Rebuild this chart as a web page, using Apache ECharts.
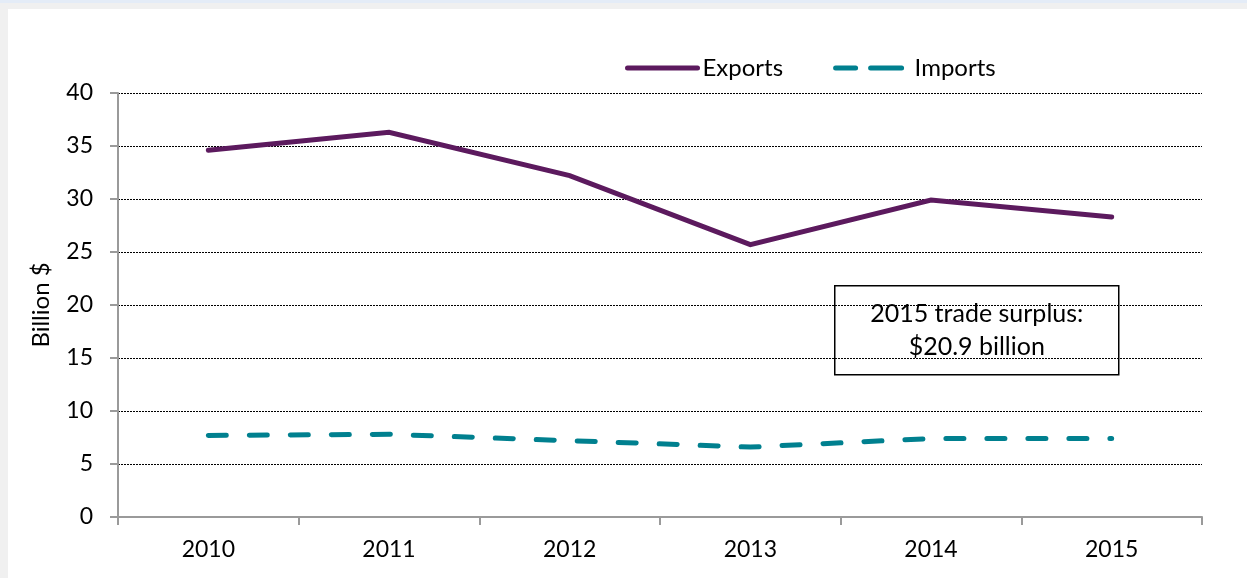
<!DOCTYPE html>
<html>
<head>
<meta charset="utf-8">
<script src="https://cdn.jsdelivr.net/npm/echarts@6/dist/echarts.min.js"></script>
<style>
  html, body { margin: 0; padding: 0; background: #f0f0f0; }
  #band { position: absolute; left: 0; top: 0; width: 1247px; height: 3px; background: #e4ecf7; }
  #panel { position: absolute; left: 8px; top: 9px; width: 1239px; height: 569px; background: #ffffff; }
  #chart { position: absolute; left: 0; top: 0; width: 1247px; height: 578px; }
</style>
</head>
<body>
<div id="band"></div>
<div id="panel"></div>
<div id="chart"></div>
<script>
// Annual trade, billion dollars
const years = ['2010', '2011', '2012', '2013', '2014', '2015'];
const exportsVals = [34.6, 36.3, 32.2, 25.7, 29.9, 28.3];
const importsVals = [7.7, 7.8, 7.2, 6.6, 7.4, 7.4];
const yTicks = { min: 0, max: 40, step: 5 };

const FONT = 'Lato';
const EXP_COLOR = '#5c1a5e';
const IMP_COLOR = '#00808f';
const last = years.length - 1;
const surplus = (exportsVals[last] - importsVals[last]).toFixed(1);

const chart = echarts.init(document.getElementById('chart'), null, { renderer: 'canvas' });

chart.setOption({
  backgroundColor: 'transparent',
  animation: false,
  textStyle: { fontFamily: FONT, color: '#000' },
  grid: { left: 118, right: 45, top: 93, bottom: 61, containLabel: false },
  legend: {
    left: 620,
    top: 51,
    itemWidth: 70,
    itemHeight: 12,
    itemGap: 50,
    itemStyle: { opacity: 0 },
    textStyle: { fontFamily: FONT, fontSize: 24, color: '#000' },
    data: [
      {
        name: 'Exports',
        lineStyle: { color: EXP_COLOR, width: 5, cap: 'round', type: 'solid' }
      },
      {
        name: 'Imports',
        lineStyle: { color: IMP_COLOR, width: 5, cap: 'round', type: [20, 15, 31] },
        textStyle: { padding: [0, 0, 0, 4] }
      }
    ]
  },
  xAxis: {
    type: 'category',
    data: years,
    boundaryGap: true,
    axisLine: { lineStyle: { color: '#9a9a9a', width: 2 } },
    axisTick: { show: true, length: 8, lineStyle: { color: '#9a9a9a', width: 2 } },
    axisLabel: { fontFamily: FONT, fontSize: 23, color: '#000', margin: 21 }
  },
  yAxis: {
    type: 'value',
    min: yTicks.min,
    max: yTicks.max,
    interval: yTicks.step,
    name: 'Billion $',
    nameLocation: 'middle',
    nameGap: 65,
    nameRotate: 90,
    nameTextStyle: { fontFamily: FONT, fontSize: 24, color: '#000' },
    axisLine: { show: true, lineStyle: { color: '#9a9a9a', width: 2 } },
    axisTick: { show: true, length: 8, lineStyle: { color: '#9a9a9a', width: 2 } },
    axisLabel: { fontFamily: FONT, fontSize: 23, color: '#000', margin: 25 },
    splitLine: { show: true, lineStyle: { color: '#000', width: 1, type: [2, 1] } }
  },
  series: [
    {
      name: 'Exports',
      type: 'line',
      data: exportsVals,
      symbol: 'none',
      color: EXP_COLOR,
      lineStyle: { color: EXP_COLOR, width: 5, cap: 'round', join: 'miter' }
    },
    {
      name: 'Imports',
      type: 'line',
      data: importsVals,
      symbol: 'none',
      color: IMP_COLOR,
      lineStyle: { color: IMP_COLOR, width: 5, type: [18, 23], cap: 'round' }
    }
  ],
  graphic: [
    {
      type: 'group',
      left: 834,
      top: 285,
      children: [
        {
          type: 'rect',
          shape: { x: 0, y: 0, width: 284, height: 89 },
          style: { fill: '#fff', stroke: '#000', lineWidth: 1.5 }
        },
        {
          type: 'text',
          x: 142,
          y: 45,
          style: {
            text: '2015 trade surplus:\n$' + surplus + ' billion',
            fontFamily: FONT,
            fontSize: 25,
            lineHeight: 33,
            fill: '#000',
            align: 'center',
            verticalAlign: 'middle'
          }
        }
      ]
    }
  ]
});
</script>
</body>
</html>
